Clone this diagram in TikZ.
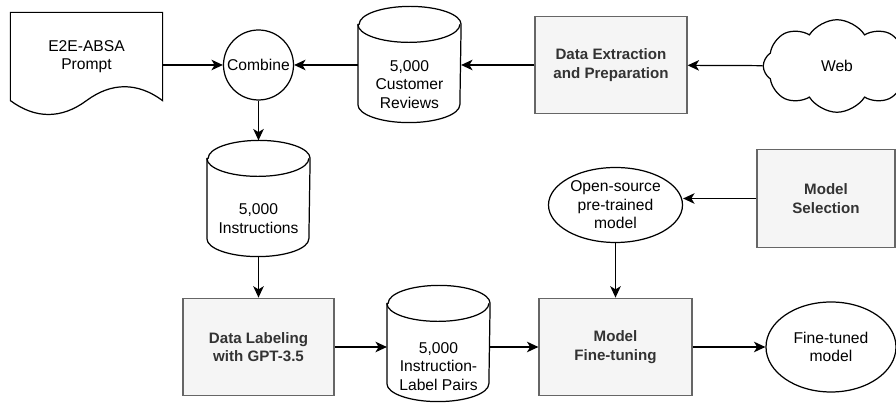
\documentclass[tikz,border=0pt]{standalone}
\usepackage{fontspec}
\setmainfont{Liberation Sans}
\usetikzlibrary{shapes.geometric, shapes.symbols, arrows.meta}
\definecolor{boxfill}{HTML}{F5F5F5}
\definecolor{boxline}{HTML}{666666}
\definecolor{boxtext}{HTML}{333333}

% cilindro desenhado em volta de um no
\newcommand{\drawcyl}[1]{%
  \draw ([yshift=-0.36cm]#1.north west) -- ([yshift=0.36cm]#1.south west)
    arc[start angle=180, end angle=360, x radius=1.02cm, y radius=0.36cm]
    -- ([yshift=-0.36cm]#1.north east)
    arc[start angle=0, end angle=180, x radius=1.02cm, y radius=0.36cm] -- cycle;
  \draw ([yshift=-0.36cm]#1.north west)
    arc[start angle=180, end angle=360, x radius=1.02cm, y radius=0.36cm];}

\begin{document}
\begin{tikzpicture}[
  font=\fontsize{8.9}{10.5}\selectfont,
  line width=0.7pt,
  >={Stealth[length=6.5pt,width=6pt,inset=1.8pt]},
  proc/.style={draw=boxline, fill=boxfill, text=boxtext, align=center,
    font=\fontsize{8.6}{10.5}\selectfont\bfseries, minimum height=1.95cm},
  cyl/.style={minimum width=2.04cm, minimum height=2.3cm, inner sep=0pt},
  blob/.style={draw, ellipse, align=center, inner sep=0pt},
  txt/.style={align=center}
]
\useasboundingbox (0,0) rectangle (17.92,8.06);

% Prompt
\node[txt, minimum width=3.02cm, minimum height=1.74cm] (prompt) at (1.73,6.93) {E2E-ABSA\\Prompt};
\draw (prompt.south west) -- (prompt.north west) -- (prompt.north east) -- (prompt.south east)
  .. controls +(-0.5,0.37) and +(0.5,0.37) .. (prompt.south)
  .. controls +(-0.5,-0.37) and +(0.5,-0.37) .. (prompt.south west) -- cycle;

% Linha de cima
\node[draw, circle, minimum size=1.4cm, inner sep=0pt] (combine) at (5.17,6.76) {Combine};
\node[cyl] (reviews) at (8.19,6.77) {};
\drawcyl{reviews}
\node[txt] (reviewstxt) at ([yshift=-0.4cm]reviews.center) {5,000\\Customer\\Reviews};
\node[proc, minimum width=3.04cm] (extract) at (12.22,6.76) {Data Extraction\\and Preparation};
\node[draw, cloud, cloud puffs=8, cloud puff arc=115, aspect=1.6,
  minimum width=2.95cm, minimum height=1.85cm] (web) at (16.74,6.74) {Web};

% Rotulagem
\node[cyl] (instr) at (5.17,4.09) {};
\drawcyl{instr}
\node[txt] (instrtxt) at ([yshift=-0.4cm]instr.center) {5,000\\Instructions};
\node[proc, minimum width=3.02cm] (labeling) at (5.17,1.12) {Data Labeling\\with GPT-3.5};
\node[cyl] (pairs) at (8.77,1.19) {};
\drawcyl{pairs}
\node[txt] (pairstxt) at ([yshift=-0.46cm]pairs.center) {5,000\\Instruction-\\Label Pairs};

% Modelo
\node[proc, minimum width=2.76cm] (select) at (16.52,4.09) {Model\\Selection};
\node[blob, minimum width=2.68cm, minimum height=1.5cm] (open) at (12.31,3.96) {Open-source\\pre-trained\\model};
\node[proc, minimum width=3.06cm] (finetune) at (12.31,1.12) {Model\\Fine-tuning};
\node[blob, minimum width=2.6cm, minimum height=1.8cm] (tuned) at (16.62,1.12) {Fine-tuned\\model};

% Setas
\draw[->] (prompt.east |- combine) -- (combine);
\draw[->] (reviews.west |- combine) -- (combine);
\draw[->] (extract) -- (reviews.east |- extract);
\draw[->] (web) -- (extract);
\draw[->] (combine) -- (instr);
\draw[->] (instr) -- (labeling);
\draw[->] (labeling) -- (pairs.west |- labeling);
\draw[->] (pairs.east |- finetune) -- (finetune);
\draw[->] (select.west) -- (open.east |- select.west);
\draw[->] (open) -- (finetune);
\draw[->] (finetune) -- (tuned);
\end{tikzpicture}
\end{document}
